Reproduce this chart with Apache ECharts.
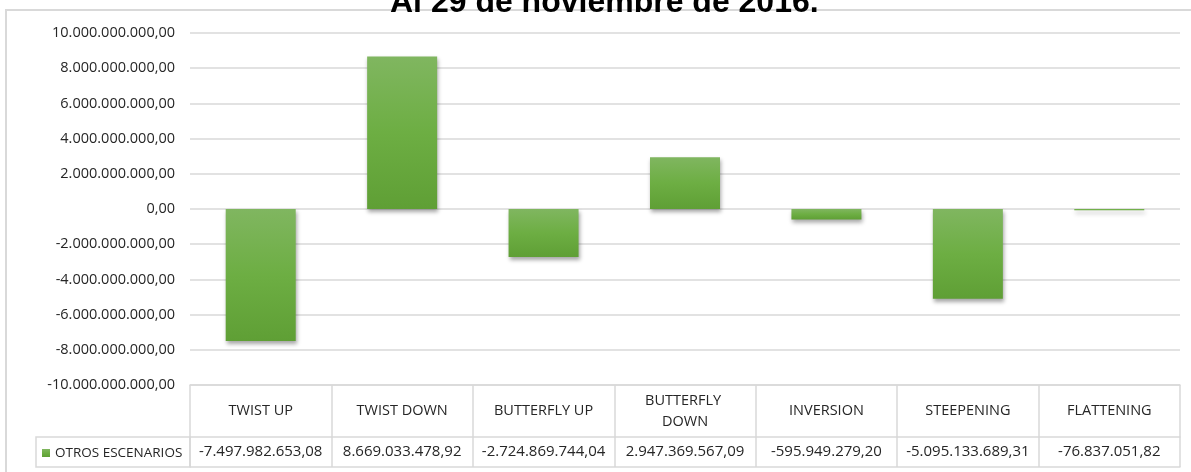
<!DOCTYPE html>
<html>
<head>
<meta charset="utf-8">
<title>Otros escenarios</title>
<script src="https://cdn.jsdelivr.net/npm/echarts@6/dist/echarts.min.js"></script>
<style>
    html, body { margin: 0; padding: 0; background: #fff; }
    #chart { width: 1191px; height: 472px; }
</style>
</head>
<body>
<div id="chart"></div>
<script>
    // escenarios y valores (tal como aparecen en la tabla)
    var escenarios = ['TWIST UP', 'TWIST DOWN', 'BUTTERFLY UP', 'BUTTERFLY DOWN', 'INVERSION', 'STEEPENING', 'FLATTENING'];
    var otrosEscenarios = [-7497982653.08, 8669033478.92, -2724869744.04, 2947369567.09, -595949279.20, -5095133689.31, -76837051.82];
    var serieNombre = 'OTROS ESCENARIOS';
    var titulo = 'Al 29 de noviembre de 2016.';

    var ejeMin = -10000000000;
    var ejeMax = 10000000000;
    var ejePaso = 2000000000;

    var fuente = '"Open Sans", "Noto Sans", sans-serif';
    var gris = '#d9d9d9';
    var texto = '#262626';

    // 1234567,8 -> 1.234.567,80
    function fmtEs(v) {
        var neg = v < 0;
        var s = Math.abs(v).toFixed(2);
        var partes = s.split('.');
        var ent = partes[0].replace(/\B(?=(\d{3})+(?!\d))/g, '.');
        return (neg ? '-' : '') + ent + ',' + partes[1];
    }

    var chart = echarts.init(document.getElementById('chart'));

    var option = {
        animation: false,
        title: {
            text: titulo,
            left: 385,
            top: -18,
            textStyle: {
                fontFamily: '"Liberation Sans", Arial, sans-serif',
                fontWeight: 'bold',
                fontSize: 32,
                color: '#000'
            }
        },
        legend: {
            data: [serieNombre],
            left: 42,
            top: 446,
            padding: 0,
            itemWidth: 8,
            itemHeight: 8,
            icon: 'rect',
            selectedMode: false,
            textStyle: { fontFamily: fuente, fontSize: 13.5, color: texto }
        },
        grid: {
            left: 190,
            right: 11,
            top: 33,
            bottom: 87,
            containLabel: false
        },
        graphic: [
            // marco exterior
            {
                type: 'rect',
                shape: { x: 6, y: 10, width: 1200, height: 500 },
                style: { fill: 'none', stroke: gris, lineWidth: 2 },
                silent: true
            },
            // celda de la leyenda
            {
                type: 'rect',
                shape: { x: 36, y: 437, width: 154, height: 30 },
                style: { fill: 'none', stroke: gris, lineWidth: 1.5 },
                silent: true
            }
        ],
        xAxis: [
            {
                type: 'category',
                data: escenarios,
                position: 'bottom',
                axisLine: { show: true, onZero: false, lineStyle: { color: gris, width: 1.5 } },
                axisTick: { show: true, length: 82, interval: 0, lineStyle: { color: gris, width: 1.5 } },
                axisLabel: {
                    interval: 0,
                    margin: 26,
                    verticalAlign: 'middle',
                    width: 112,
                    overflow: 'break',
                    lineHeight: 21,
                    fontFamily: fuente,
                    fontSize: 14.5,
                    color: texto
                }
            },
            {
                type: 'category',
                data: escenarios,
                position: 'bottom',
                offset: 52,
                axisLine: { show: true, onZero: false, lineStyle: { color: gris, width: 1.5 } },
                axisTick: { show: false },
                axisLabel: {
                    interval: 0,
                    margin: 15,
                    verticalAlign: 'middle',
                    fontFamily: fuente,
                    fontSize: 15,
                    color: texto,
                    formatter: function (v, i) { return fmtEs(otrosEscenarios[i]); }
                }
            },
            {
                type: 'category',
                data: escenarios,
                position: 'bottom',
                offset: 82,
                axisLine: { show: true, onZero: false, lineStyle: { color: gris, width: 1.5 } },
                axisTick: { show: false },
                axisLabel: { show: false }
            }
        ],
        yAxis: {
            type: 'value',
            min: ejeMin,
            max: ejeMax,
            interval: ejePaso,
            axisLine: { show: false },
            axisTick: { show: false },
            splitLine: { lineStyle: { color: gris, width: 1.5 } },
            axisLabel: {
                margin: 15,
                fontFamily: fuente,
                fontSize: 14.5,
                color: texto,
                formatter: function (v) { return fmtEs(v); }
            }
        },
        series: [
            {
                name: serieNombre,
                type: 'bar',
                data: otrosEscenarios,
                barWidth: 70,
                itemStyle: {
                    color: new echarts.graphic.LinearGradient(0, 0, 0, 1, [
                        { offset: 0, color: '#80b660' },
                        { offset: 0.5, color: '#6dae43' },
                        { offset: 1, color: '#5f9f35' }
                    ]),
                    shadowColor: 'rgba(0, 0, 0, 0.35)',
                    shadowBlur: 4,
                    shadowOffsetX: 1,
                    shadowOffsetY: 3
                }
            }
        ]
    };

    chart.setOption(option);
</script>
</body>
</html>
